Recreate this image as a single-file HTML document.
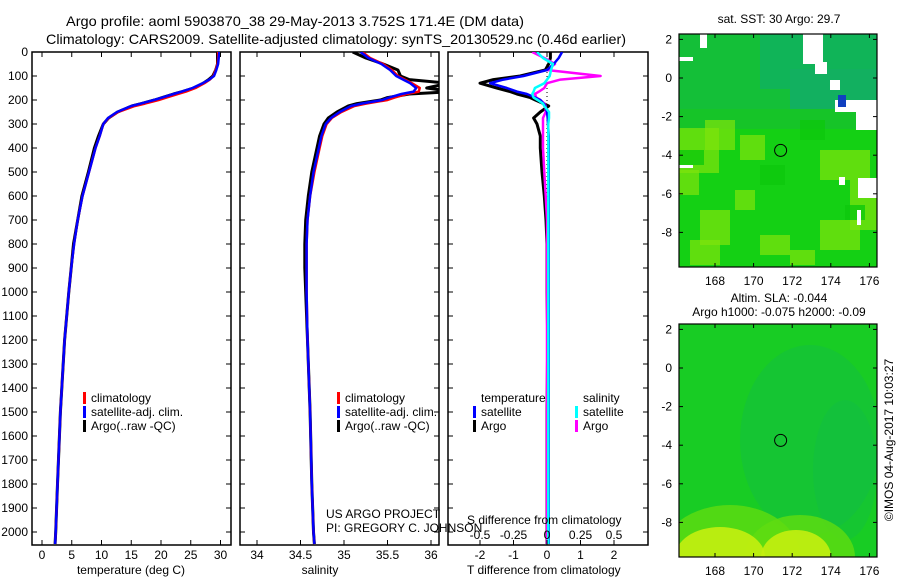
<!DOCTYPE html>
<html><head><meta charset="utf-8"><style>
body{margin:0;background:#fff;overflow:hidden}
svg{display:block;font-family:"Liberation Sans",sans-serif}
</style></head><body>
<svg id="c" width="900" height="580" viewBox="0 0 900 580">
<rect width="900" height="580" fill="#fff"/>
<text x="66" y="26" font-size="14" textLength="458" lengthAdjust="spacingAndGlyphs">Argo profile: aoml 5903870_38 29-May-2013 3.752S 171.4E (DM data)</text>
<text x="46" y="44" font-size="14" textLength="580" lengthAdjust="spacingAndGlyphs">Climatology: CARS2009. Satellite-adjusted climatology: synTS_20130529.nc (0.46d earlier)</text>
<g id="maps"></g>
<g id="plots"></g>
</svg>
<script>
// depth levels (dbar)
const depthLevels=[0,25,50,75,100,115,130,150,165,175,190,200,215,225,250,275,300,350,400,500,600,700,800,900,1000,1200,1500,1800,2000,2050];
const tempClim=[29.6,29.6,29.5,29.2,28.8,28.2,27.3,25.8,24.2,22.8,20.9,19.6,17.3,15.6,12.8,11.2,10.3,9.7,9.0,7.9,6.8,6.0,5.4,4.9,4.5,3.8,3.1,2.6,2.3,2.2];
const tempSat=[29.8,29.7,29.6,29.3,28.9,28.1,27.0,25.3,23.5,22.1,20.2,18.8,16.6,15.0,12.6,11.1,10.3,9.7,9.0,7.9,6.8,6.0,5.4,4.9,4.5,3.8,3.1,2.6,2.3,2.2];
const tempArgo=[29.5,29.5,29.5,29.2,28.7,28.0,27.1,25.5,23.6,22.1,20.2,18.9,16.7,15.1,12.7,11.2,10.3,9.5,8.8,7.8,6.7,6.0,5.3,4.9,4.5,3.8,3.1,2.6,2.3,2.2];
const salClim=[35.21,35.3,35.45,35.55,35.62,35.7,35.78,35.87,35.86,35.72,35.58,35.5,35.25,35.12,34.97,34.86,34.8,34.75,34.72,34.66,34.61,34.58,34.57,34.57,34.57,34.58,34.61,34.63,34.65,34.66];
const salSat=[35.19,35.28,35.43,35.53,35.6,35.68,35.76,35.83,35.8,35.66,35.52,35.44,35.2,35.08,34.95,34.85,34.79,34.74,34.71,34.65,34.61,34.58,34.57,34.57,34.57,34.58,34.61,34.63,34.65,34.66];
const salArgo=[35.1,35.25,35.45,35.62,35.65,35.75,36.2,35.95,36.25,35.75,35.5,35.42,35.15,35.05,34.92,34.82,34.77,34.72,34.69,34.63,34.59,34.56,34.55,34.55,34.56,34.58,34.61,34.63,34.65,34.66];
const dTsat=[0.45,0.35,0.2,0.0,-0.7,-1.3,-1.7,-1.2,-0.9,-0.6,-0.35,-0.2,-0.1,-0.05,0.0,0.02,0.03,0.05,0.05,0.05,0.05,0.05,0.05,0.05,0.05,0.05,0.05,0.05,0.05,0.05];
const dTargo=[0.1,0.1,0.05,-0.05,-0.8,-1.6,-2.0,-1.5,-1.1,-0.9,-0.5,-0.35,-0.1,0.05,-0.2,-0.4,-0.3,-0.2,-0.2,-0.15,-0.08,-0.03,0.0,0.0,0.0,0.02,0.0,0.0,0.0,0.0];
const dSsat=[-0.075,-0.03,0.045,0.03,0.02,0.0,-0.02,-0.09,-0.1,-0.11,-0.1,-0.07,-0.03,-0.02,0.015,0.015,0.01,0.01,0.01,0.01,0.01,0.01,0.01,0.01,0.01,0.01,0.01,0.01,0.01,0.01];
const dSargo=[-0.11,-0.02,0.06,0.0,0.4,0.1,0.0,-0.02,-0.06,-0.09,-0.08,-0.05,-0.02,-0.01,-0.01,-0.03,-0.03,-0.03,-0.03,-0.02,-0.01,0,0,0,0,0,0,0,0,0];
const depthTicks=[0,100,200,300,400,500,600,700,800,900,1000,1100,1200,1300,1400,1500,1600,1700,1800,1900,2000];
const tempTicks=[0,5,10,15,20,25,30];
const salTicks=[34,34.5,35,35.5,36];
const dTTicks=[-2,-1,0,1,2];
const dSTicks=[-0.5,-0.25,0,0.25,0.5];
const lonTicks=[168,170,172,174,176];
const latTicks=[2,0,-2,-4,-6,-8];

const NS="http://www.w3.org/2000/svg";
const plots=document.getElementById('plots');
function el(tag,attrs,parent,txt){const e=document.createElementNS(NS,tag);for(const k in attrs)e.setAttribute(k,attrs[k]);if(txt!==undefined)e.textContent=txt;(parent||plots).appendChild(e);return e;}
const TOP=52,BOT=545;
const yD=d=>TOP+Math.min(d,2050)*0.24;
function xLin(v0,p0,v1,p1){return v=>p0+(v-v0)*(p1-p0)/(v1-v0);}
const xT=xLin(0,42,30,220.5), xS=xLin(34,257,36,431), xDT=xLin(-2,480,2,614), xDS=xLin(-0.5,480,0.5,614);

function frame(x0,x1,name){
  const g=el('g',{});
  
  
  el('rect',{x:x0,y:TOP,width:x1-x0,height:BOT-TOP,fill:'none',stroke:'#000','stroke-width':1.5},g);
  depthTicks.forEach(d=>{const y=yD(d);el('line',{x1:x0,x2:x0+5,y1:y,y2:y,stroke:'#000'},g);el('line',{x1:x1,x2:x1-5,y1:y,y2:y,stroke:'#000'},g);});
  return g;
}
function xticks(g,ticks,f,labels){ticks.forEach((t,i)=>{const x=f(t);el('line',{x1:x,x2:x,y1:TOP,y2:TOP+5,stroke:'#000'},g);el('line',{x1:x,x2:x,y1:BOT,y2:BOT-5,stroke:'#000'},g);if(labels){const tx=el('text',{x:x,y:559,'font-size':12,'text-anchor':'middle'},g,String(t));}});}
function line(vals,f,color,name,g,w){
  const pts=vals.map((v,i)=>f(v).toFixed(1)+','+yD(depthLevels[i]).toFixed(1)).join(' ');
  const p=el('polyline',{points:pts,fill:'none',stroke:color,'stroke-width':w||2.5,'stroke-linejoin':'round'},g);
  
  
}
const yl=el('g',{});


depthTicks.forEach(d=>{el('text',{x:28,y:yD(d)+4,'font-size':12,'text-anchor':'end'},yl,String(d));});

const g1=frame(32,231,'temperature-panel');
const cp1=el('clipPath',{id:'cp1'},g1);el('rect',{x:32,y:TOP,width:199,height:BOT-TOP},cp1);
const c1=el('g',{'clip-path':'url(#cp1)'},g1);
xticks(g1,tempTicks,xT,true);
line(tempArgo,xT,'#000','temp-argo-line',c1,3);
line(tempClim,xT,'#f00','temp-clim-line',c1);
line(tempSat,xT,'#00f','temp-sat-line',c1);
const xl1=el('text',{x:131,y:574,'font-size':12,'text-anchor':'middle'},g1,'temperature (deg C)');


const g2=frame(240,439,'salinity-panel');
const cp2=el('clipPath',{id:'cp2'},g2);el('rect',{x:240,y:TOP,width:199,height:BOT-TOP},cp2);
const c2=el('g',{'clip-path':'url(#cp2)'},g2);
xticks(g2,salTicks,xS,true);
line(salArgo,xS,'#000','sal-argo-line',c2,3);
line(salClim,xS,'#f00','sal-clim-line',c2);
line(salSat,xS,'#00f','sal-sat-line',c2);
const xl2=el('text',{x:320,y:574,'font-size':12,'text-anchor':'middle'},g2,'salinity');

const cr=el('text',{x:326,y:518,'font-size':12},g2,'US ARGO PROJECT');

const pi=el('text',{x:326,y:532,'font-size':12},g2,'PI: GREGORY C. JOHNSON');


const g3=frame(448,648,'difference-panel');
const cp3=el('clipPath',{id:'cp3'},g3);el('rect',{x:448,y:TOP,width:200,height:BOT-TOP},cp3);
const c3=el('g',{'clip-path':'url(#cp3)'},g3);
xticks(g3,dTTicks,xDT,true);
el('line',{x1:547,x2:547,y1:TOP,y2:BOT,stroke:'#000','stroke-dasharray':'1,3'},c3);
line(dTargo,xDT,'#000','dT-argo-line',c3,3);
line(dSargo,xDS,'#f0f','dS-argo-line',c3);
line(dTsat,xDT,'#00f','dT-sat-line',c3);
line(dSsat,xDS,'#0ff','dS-sat-line',c3);
dSTicks.forEach(t=>{const tx=el('text',{x:xDS(t),y:539,'font-size':12,'text-anchor':'middle'},g3,t===0?'0':String(t));});
const sd=el('text',{x:467,y:524,'font-size':12},g3,'S difference from climatology');

const td=el('text',{x:467,y:574,'font-size':12},g3,'T difference from climatology');


function legend(x,y,color,label,g,name){
  const lg=el('g',{},g);
  
  
  if(color)el('rect',{x:x,y:y-10,width:3,height:12,fill:color},lg);
  el('text',{x:x+8,y:y,'font-size':12},lg,label);
}
legend(83,402,'#f00','climatology',g1,'legend-climatology');
legend(83,416,'#00f','satellite-adj. clim.',g1,'legend-satellite-adj');
legend(83,430,'#000','Argo(..raw -QC)',g1,'legend-argo');
legend(337,402,'#f00','climatology',g2,'legend-climatology');
legend(337,416,'#00f','satellite-adj. clim.',g2,'legend-satellite-adj');
legend(337,430,'#000','Argo(..raw -QC)',g2,'legend-argo');
legend(473,402,null,'temperature',g3,'legend-temperature-header');
legend(473,416,'#00f','satellite',g3,'legend-t-satellite');
legend(473,430,'#000','Argo',g3,'legend-t-argo');
legend(575,402,null,'salinity',g3,'legend-salinity-header');
legend(575,416,'#0ff','satellite',g3,'legend-s-satellite');
legend(575,430,'#f0f','Argo',g3,'legend-s-argo');

const maps=document.getElementById('maps');
function mapPanel(y0,name,draw){
  const g=el('g',{},maps);
  
  
  const id='m'+y0;
  const cp=el('clipPath',{id:id},g);el('rect',{x:679,y:y0,width:198,height:233},cp);
  const c=el('g',{'clip-path':'url(#'+id+')'},g);
  draw(c,y0);
  el('rect',{x:679,y:y0,width:198,height:233,fill:'none',stroke:'#000','stroke-width':1.2},g);
  const lonX=l=>715+(l-168)*19.3, latY=la=>y0+44-la*19.3;
  lonTicks.forEach(l=>{const x=lonX(l);el('line',{x1:x,x2:x,y1:y0,y2:y0+4,stroke:'#000'},g);el('line',{x1:x,x2:x,y1:y0+233,y2:y0+229,stroke:'#000'},g);el('text',{x:x,y:y0+251,'font-size':12,'text-anchor':'middle'},g,String(l));});
  latTicks.forEach(la=>{const y=latY(la);el('line',{x1:679,x2:683,y1:y,y2:y,stroke:'#000'},g);el('line',{x1:877,x2:873,y1:y,y2:y,stroke:'#000'},g);el('text',{x:672,y:y+4,'font-size':12,'text-anchor':'end'},g,String(la));});
  const circ=el('circle',{cx:lonX(171.4),cy:latY(-3.75),r:6,fill:'none',stroke:'#000'},g);
  
}
mapPanel(34,'sst-map',(c,y0)=>{
  el('rect',{x:679,y:y0,width:198,height:233,fill:'#14d014'},c);
  el('rect',{x:679,y:y0,width:198,height:75,fill:'#14bf38'},c);
  el('rect',{x:760,y:y0,width:117,height:55,fill:'#10b458'},c);
  el('rect',{x:790,y:y0+35,width:87,height:50,fill:'#12b060'},c);
  el('rect',{x:679,y:y0+75,width:198,height:20,fill:'#16c428'},c);
  [[679,128,40,45],[705,120,30,30],[740,135,25,25],[679,170,20,25],[700,210,30,35],[735,190,20,20],[820,150,50,30],[850,180,27,50],[760,235,30,20],[820,220,40,30],[690,240,30,25],[790,250,25,15]].forEach(r=>el('rect',{x:r[0],y:r[1],width:r[2],height:r[3],fill:'#80e40c',opacity:0.7},c));
  [[679,150,25,15],[760,165,25,20],[800,120,25,20],[845,205,20,15]].forEach(r=>el('rect',{x:r[0],y:r[1],width:r[2],height:r[3],fill:'#0cc80c',opacity:0.8},c));
  [[803,34,20,30],[815,62,12,12],[830,80,10,10],[835,100,42,12],[856,112,21,18],[839,177,6,8],[858,178,19,20],[679,57,14,4],[700,34,7,14],[679,165,14,3],[857,210,4,15]].forEach(r=>el('rect',{x:r[0],y:r[1],width:r[2],height:r[3],fill:'#fff'},c));
  el('rect',{x:838,y:95,width:8,height:12,fill:'#1040c0'},c);
});
function blob(c,x1,x2,h,fill,op){
  const rx=(x2-x1)/2;
  el('path',{d:`M${x1},557 A${rx},${h} 0 0 1 ${x2},557 Z`,fill:fill,opacity:op},c);
}
mapPanel(324,'sla-map',(c,y0)=>{
  el('rect',{x:679,y:y0,width:198,height:233,fill:'#18cc24'},c);
  el('ellipse',{cx:810,cy:440,rx:70,ry:95,fill:'#10b850',opacity:0.35},c);
  el('ellipse',{cx:845,cy:470,rx:32,ry:70,fill:'#10b850',opacity:0.3},c);
  blob(c,660,800,52,'#60dc10',0.8);
  blob(c,745,855,42,'#60dc10',0.8);
  blob(c,675,765,30,'#c4ee10',0.9);
  blob(c,761,831,27,'#c4ee10',0.9);
});
const t1=el('text',{x:779,y:23,'font-size':12,'text-anchor':'middle'},maps,'sat. SST: 30 Argo: 29.7');

const t2=el('text',{x:779,y:302,'font-size':12,'text-anchor':'middle'},maps,'Altim. SLA: -0.044');

const t3=el('text',{x:779,y:316,'font-size':12,'text-anchor':'middle'},maps,'Argo h1000: -0.075 h2000: -0.09');

const t4=el('text',{x:0,y:0,'font-size':12,'text-anchor':'middle',transform:'translate(893,440) rotate(-90)'},maps,'©IMOS 04-Aug-2017 10:03:27');

</script>
</body></html>
